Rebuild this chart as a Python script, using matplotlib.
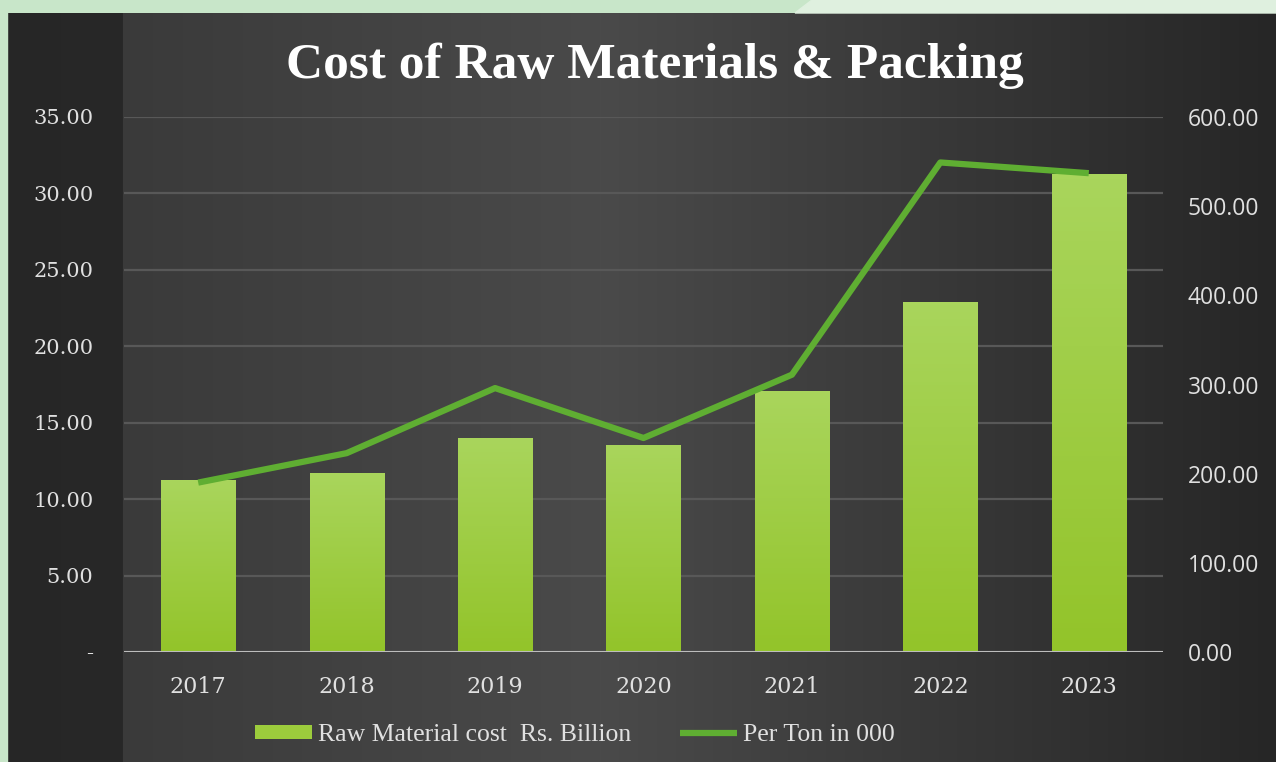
import matplotlib.pyplot as plt
import matplotlib.colors as mcolors
from matplotlib.patches import Polygon
import numpy as np

# === data ===
years = ['2017', '2018', '2019', '2020', '2021', '2022', '2023']
raw_cost = [11.25, 11.7, 14.0, 13.55, 17.05, 22.9, 31.25]      # Rs. Billion (left axis)
per_ton = [190, 223, 296, 240, 311, 549, 537]                   # in 000 (right axis)

W, H = 1276, 762
fig = plt.figure(figsize=(W / 100, H / 100), dpi=100)
fig.patch.set_facecolor('#c8e6c9')

# === background panel ===
bg = fig.add_axes([0, 0, 1, 1])
bg.set_xlim(0, W)
bg.set_ylim(H, 0)
bg.axis('off')
xs = np.arange(W)
keys_x = [0, 122, 123, 600, 1276]
keys_v = [0x26, 0x28, 0x3a, 0x4a, 0x26]
vals = np.interp(xs, keys_x, keys_v) / 255.0
grad = np.repeat(vals[None, :, None], 3, axis=2)
bg.imshow(grad, extent=[0, W, H, 13], aspect='auto', zorder=0)
bg.add_patch(Polygon([(0, 0), (7, 0), (7, H), (0, H)], color='#c8e6c9', zorder=1))
bg.add_patch(Polygon([(795, 13), (812, 0), (W, 0), (W, 13)], color='#dff0df', zorder=1))

# === chart ===
ax = fig.add_axes([124 / W, 1 - 652 / H, (1163 - 124) / W, (652 - 117) / H])
ax.patch.set_alpha(0)
ax2 = ax.twinx()

x = np.arange(len(years))
bars = ax.bar(x, raw_cost, width=0.5, color='#9ccc3c', zorder=3,
              label='Raw Material cost  Rs. Billion')
cmap = mcolors.LinearSegmentedColormap.from_list('g', ['#93c42a', '#a9d55c'])
for b in bars:
    im = ax.imshow(np.linspace(0, 1, 100)[:, None], cmap=cmap, origin='lower',
                   extent=[b.get_x(), b.get_x() + b.get_width(), 0, b.get_height()],
                   aspect='auto', zorder=3.5)
    im.set_clip_path(b)

ax2.plot(x, per_ton, color='#5fae32', lw=4.5, solid_capstyle='butt',
         solid_joinstyle='round', zorder=4, label='Per Ton in 000')

ax.set_xlim(-0.5, 6.5)
ax.set_ylim(0, 35)
ax2.set_ylim(0, 600)
ax.set_yticks(np.arange(0, 36, 5))
ax2.set_yticks(np.arange(0, 601, 100))
ax.set_yticklabels(['-' if v == 0 else '%.2f' % v for v in np.arange(0, 36, 5)])
ax2.set_yticklabels(['%.2f' % v for v in np.arange(0, 601, 100)])
ax.set_xticks(x)
ax.set_xticklabels(years)

ax.grid(axis='y', color='#585858', lw=1.6, zorder=0)
ax.set_axisbelow(True)
for a in (ax, ax2):
    for s in a.spines.values():
        s.set_visible(False)
ax.axhline(0, color='#bdbdbd', lw=2.2, zorder=5)

ax.tick_params(axis='y', length=0, pad=22, labelcolor='#e0e0e0', labelsize=15)
ax.tick_params(axis='x', length=0, pad=17, labelcolor='#e0e0e0', labelsize=16)
ax2.tick_params(axis='y', length=0, pad=18, labelcolor='#e0e0e0', labelsize=16.5)
for lab in ax.get_yticklabels() + ax.get_xticklabels():
    lab.set_fontfamily('DejaVu Serif')
for lab in ax2.get_yticklabels():
    lab.set_fontfamily('Open Sans')

fig.text(655 / W, 1 - 66 / H, 'Cost of Raw Materials & Packing', ha='center', va='center',
         color='white', fontsize=37, fontweight='bold', family='Liberation Serif')

h1, l1 = ax.get_legend_handles_labels()
h2, l2 = ax2.get_legend_handles_labels()
leg = fig.legend(h1 + h2, l1 + l2, loc='center', bbox_to_anchor=(575 / W, 1 - 735 / H),
                 ncol=2, frameon=False, handlelength=2.2, handleheight=0.5,
                 columnspacing=1.9, handletextpad=0.25,
                 prop={'family': 'Liberation Serif', 'size': 18.5})
for t in leg.get_texts():
    t.set_color('#e0e0e0')

plt.savefig('out.png', dpi=100, facecolor=fig.get_facecolor())
